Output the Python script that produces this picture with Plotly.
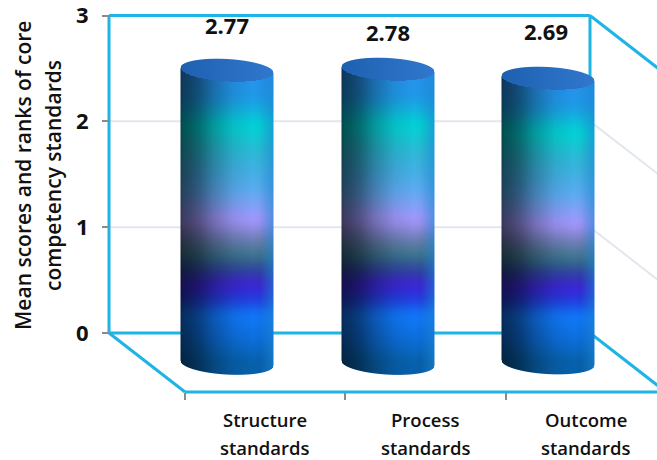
import numpy as np
import plotly.graph_objects as go

categories = ["Structure standards", "Process standards", "Outcome standards"]
mean_scores = [2.77, 2.78, 2.69]
y_ticks = [0, 1, 2, 3]

# Chart geometry, in pixels of the 657x460 canvas
W, H = 657, 460
PX_X, PX_Y = 160.5, 105.83          # pixels per category, pixels per score unit
ORIGIN_X, ORIGIN_Y = 227.0, 333.0   # where category 0 / score 0 fall
X_RANGE = [-ORIGIN_X / PX_X, (W - ORIGIN_X) / PX_X]
Y_RANGE = [(ORIGIN_Y - H) / PX_Y, ORIGIN_Y / PX_Y]

WALL_LEFT = (109 - ORIGIN_X) / PX_X
WALL_RIGHT = (590 - ORIGIN_X) / PX_X
DEPTH_X = 76 / PX_X                 # oblique offset from back wall to front edge
DEPTH_Y = 59 / PX_Y
BASE_Y = -30 / PX_Y                 # cylinder base sits partway across the floor
RADIUS = 46.5 / PX_X
CAP_B = 11.2 / PX_Y
CAP_TILT = 2.5 / PX_Y
LABEL_OFFSET_X = 38 / PX_X

CYAN = "#1fb4e6"
GRID = "#e2e7ee"
FONT = "Open Sans"

# Body colour down the lit side, as (fraction of height, rgb)
gradient = [
    (0.000, (42, 144, 240)), (0.100, (30, 155, 232)), (0.190, (0, 212, 212)),
    (0.275, (42, 186, 214)), (0.360, (72, 174, 232)), (0.410, (92, 172, 242)),
    (0.460, (128, 162, 248)), (0.513, (166, 150, 255)), (0.580, (106, 126, 178)),
    (0.632, (58, 118, 140)), (0.683, (46, 68, 160)), (0.734, (62, 34, 216)),
    (0.785, (32, 64, 224)), (0.836, (16, 122, 252)), (0.920, (12, 110, 218)),
    (1.000, (6, 96, 168)),
]
shade_u = [0.0, 0.03, 0.10, 0.21, 0.35, 0.57, 0.78, 1.0]
shade_v = [0.34, 0.40, 0.44, 0.54, 0.72, 0.92, 1.0, 0.92]

# Smoothed lookup table for the vertical colour ramp
RAMP_T = np.linspace(0, 1, 512)
_kernel = np.ones(25) / 25
RAMP = np.stack([
    np.convolve(
        np.pad(np.interp(RAMP_T, [g[0] for g in gradient], [g[1][k] for g in gradient]),
               12, mode="edge"),
        _kernel, mode="valid",
    )
    for k in range(3)
], axis=-1)


def cylinder_image(i, value):
    """RGBA raster of one cylinder, sized so one cell is one screen pixel."""
    top = BASE_Y + value
    y_hi = top + CAP_B + 3 * CAP_TILT
    y_lo = BASE_Y - CAP_B - 3 * CAP_TILT
    dx, dy = 1 / PX_X, 1 / PX_Y
    cols = int(2 * RADIUS / dx) + 5
    rows = int((y_hi - y_lo) / dy) + 3
    x0 = i - (cols - 1) / 2 * dx
    xs = x0 + np.arange(cols) * dx
    ys = y_hi - np.arange(rows) * dy
    X, Y = np.meshgrid(xs, ys)
    u = (X - i) / RADIUS
    uc = np.clip(u, -1, 1)
    arc = np.sqrt(1 - uc ** 2)
    top_c = top - CAP_TILT * uc
    base_c = BASE_Y - CAP_TILT * uc

    frac = np.clip((top - Y) / value, 0, 1)
    rgb = np.stack([np.interp(frac, RAMP_T, RAMP[:, k]) for k in range(3)], axis=-1)
    t = (uc + 1) / 2
    rgb = rgb * np.interp(t, shade_u, shade_v)[..., None]
    # the far right edge picks up a blue reflection
    edge = np.clip((t - 0.85) / 0.15, 0, 1)[..., None] * 0.55
    rgb = rgb * (1 - edge) + np.array([30, 140, 222]) * edge

    # flat top cap
    in_cap = Y > top_c - CAP_B * arc
    cap = np.array([30, 96, 176]) + t[..., None] * np.array([18, 24, 30])
    rgb = np.where(in_cap[..., None], cap, rgb)

    # soft coverage along the silhouette
    a_side = np.clip((1 - np.abs(u)) * RADIUS * PX_X + 0.5, 0, 1)
    a_top = np.clip((top_c + CAP_B * arc - Y) * PX_Y + 0.5, 0, 1)
    a_bot = np.clip((Y - (base_c - CAP_B * arc)) * PX_Y + 0.5, 0, 1)
    alpha = a_side * a_top * a_bot * 255
    z = np.dstack([rgb, alpha]).round().astype(int)
    return z.tolist(), x0, y_hi, dx, dy


fig = go.Figure()
for i, value in enumerate(mean_scores):
    z, x0, y0, dx, dy = cylinder_image(i, value)
    fig.add_trace(go.Image(
        z=z[::-1], colormodel="rgba256", x0=x0, y0=y0 - (len(z) - 1) * dy,
        dx=dx, dy=dy, hoverinfo="skip",
    ))


def segment(x0, y0, x1, y1, color, width):
    return dict(type="line", xref="x", yref="y", layer="below",
                x0=x0, y0=y0, x1=x1, y1=y1, line=dict(color=color, width=width))


shapes = []
# faint gridlines across the back wall and down the side wall
for v in y_ticks[1:3]:
    shapes.append(segment(WALL_LEFT, v, WALL_RIGHT, v, GRID, 2))
    shapes.append(segment(WALL_RIGHT, v, WALL_RIGHT + DEPTH_X, v - DEPTH_Y, GRID, 2))
top_v, low_v = y_ticks[-1], y_ticks[0]
front_left = WALL_LEFT + DEPTH_X
front_right = WALL_RIGHT + DEPTH_X
# back wall frame
shapes += [
    segment(WALL_LEFT, low_v, WALL_LEFT, top_v, CYAN, 3),
    segment(WALL_RIGHT, low_v, WALL_RIGHT, top_v, CYAN, 3),
    segment(WALL_LEFT, top_v, WALL_RIGHT, top_v, CYAN, 3),
    segment(WALL_LEFT, low_v, WALL_RIGHT, low_v, CYAN, 3),
    segment(WALL_RIGHT, top_v, front_right, top_v - DEPTH_Y, CYAN, 3),
    # floor
    segment(WALL_LEFT, low_v, front_left, low_v - DEPTH_Y, CYAN, 3),
    segment(WALL_RIGHT, low_v, front_right, low_v - DEPTH_Y, CYAN, 3),
    segment(front_left, low_v - DEPTH_Y, X_RANGE[1] + 0.1, low_v - DEPTH_Y, CYAN, 3),
]

annotations = []
# value labels float above each cylinder
label_y = [2.91, 2.845, 2.855]
label_x = [0.0, 0.0, -0.012]
for i, value in enumerate(mean_scores):
    annotations.append(dict(
        x=i + label_x[i], y=label_y[i], xref="x", yref="y", text=f"{value:.2f}",
        showarrow=False,
        font=dict(family=FONT, size=22, color="#111111", weight=700),
    ))
# category names, one word per line
for i, name in enumerate(categories):
    for row, word in enumerate(name.split(" ")):
        annotations.append(dict(
            x=i + LABEL_OFFSET_X, y=(ORIGIN_Y - (419.5 + 27.5 * row)) / PX_Y,
            xref="x", yref="y", text=word, showarrow=False,
            font=dict(family=FONT, size=18.5, color="#111111", weight=600),
        ))
# two-line vertical axis title
for px, line in [(23, "Mean scores and ranks of core"), (53, "competency standards")]:
    annotations.append(dict(
        x=(px - ORIGIN_X) / PX_X, y=(ORIGIN_Y - 176) / PX_Y,
        xref="x", yref="y", text=line, textangle=-90, showarrow=False,
        font=dict(family=FONT, size=21, color="#111111", weight=600),
    ))

fig.update_layout(
    width=W, height=H, margin=dict(l=0, r=0, t=0, b=0),
    paper_bgcolor="white", plot_bgcolor="white", showlegend=False,
    shapes=shapes, annotations=annotations,
    xaxis=dict(
        range=X_RANGE, anchor="free",
        position=(H - (ORIGIN_Y + DEPTH_Y * PX_Y)) / H,
        tickmode="array",
        tickvals=[i - 0.5 + 0.238 for i in range(len(categories))],
        ticks="outside", ticklen=7, tickwidth=2, tickcolor="#8a8a8a",
        showticklabels=False, showgrid=False, zeroline=False, showline=False,
    ),
    yaxis=dict(
        range=Y_RANGE, anchor="free", position=109 / W, scaleanchor=False,
        tickmode="array", tickvals=y_ticks, ticktext=[str(v) for v in y_ticks],
        ticks="outside", ticklen=7, tickwidth=2, tickcolor="#8a8a8a",
        ticklabelstandoff=9, ticklabeloverflow="allow",
        tickfont=dict(family=FONT, size=22, color="#111111", weight=700),
        showgrid=False, zeroline=False, showline=False,
    ),
)

fig.write_html("out.html", config=dict(displayModeBar=False))
